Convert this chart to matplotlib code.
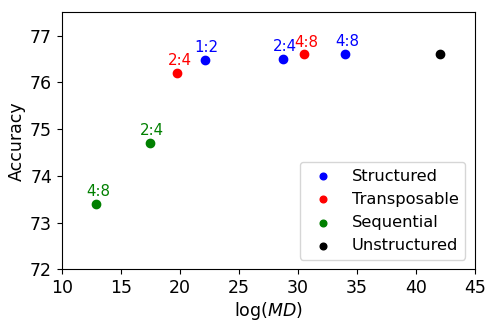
import matplotlib
matplotlib.use("Agg")
import matplotlib.pyplot as plt

# data
groups = ["Structured", "Transposable", "Sequential", "Unstructured"]
colors = ["blue", "red", "green", "black"]

structured_x = [22.1, 28.7, 34.0]
structured_y = [76.48, 76.51, 76.61]
structured_lbl = ["1:2", "2:4", "4:8"]

transposable_x = [19.8, 30.5]
transposable_y = [76.2, 76.6]
transposable_lbl = ["2:4", "4:8"]

sequential_x = [17.5, 12.9]
sequential_y = [74.7, 73.4]
sequential_lbl = ["2:4", "4:8"]

unstructured_x = [42.0]
unstructured_y = [76.61]
unstructured_lbl = [""]

xs = [structured_x, transposable_x, sequential_x, unstructured_x]
ys = [structured_y, transposable_y, sequential_y, unstructured_y]
lbls = [structured_lbl, transposable_lbl, sequential_lbl, unstructured_lbl]

fig = plt.figure(figsize=(4.98, 3.32), dpi=100)
ax = fig.add_axes([0.124, 0.189, 0.83, 0.774])

for name, c, x, y, lb in zip(groups, colors, xs, ys, lbls):
    ax.scatter(x, y, s=36, color=c, label=name, zorder=3)
    for xi, yi, t in zip(x, y, lb):
        if t:
            ax.annotate(t, (xi, yi), xytext=(1.5, 5.5), textcoords="offset points",
                        ha="center", va="baseline", color=c, fontsize=10.8)

ax.set_xlim(10, 45)
ax.set_ylim(72, 77.5)
ax.set_xticks([10, 15, 20, 25, 30, 35, 40, 45])
ax.set_yticks([72, 73, 74, 75, 76, 77])
ax.tick_params(labelsize=12.5)
ax.set_xlabel("log($MD$)", fontsize=12.5, labelpad=2)
ax.set_ylabel("Accuracy", fontsize=12.5, labelpad=3)

ax.legend(loc="lower right", fontsize=11.7, handlelength=2.0, handletextpad=0.8,
          borderaxespad=0.6, markerscale=0.8, labelspacing=0.5)

fig.savefig("out.png", dpi=100)
